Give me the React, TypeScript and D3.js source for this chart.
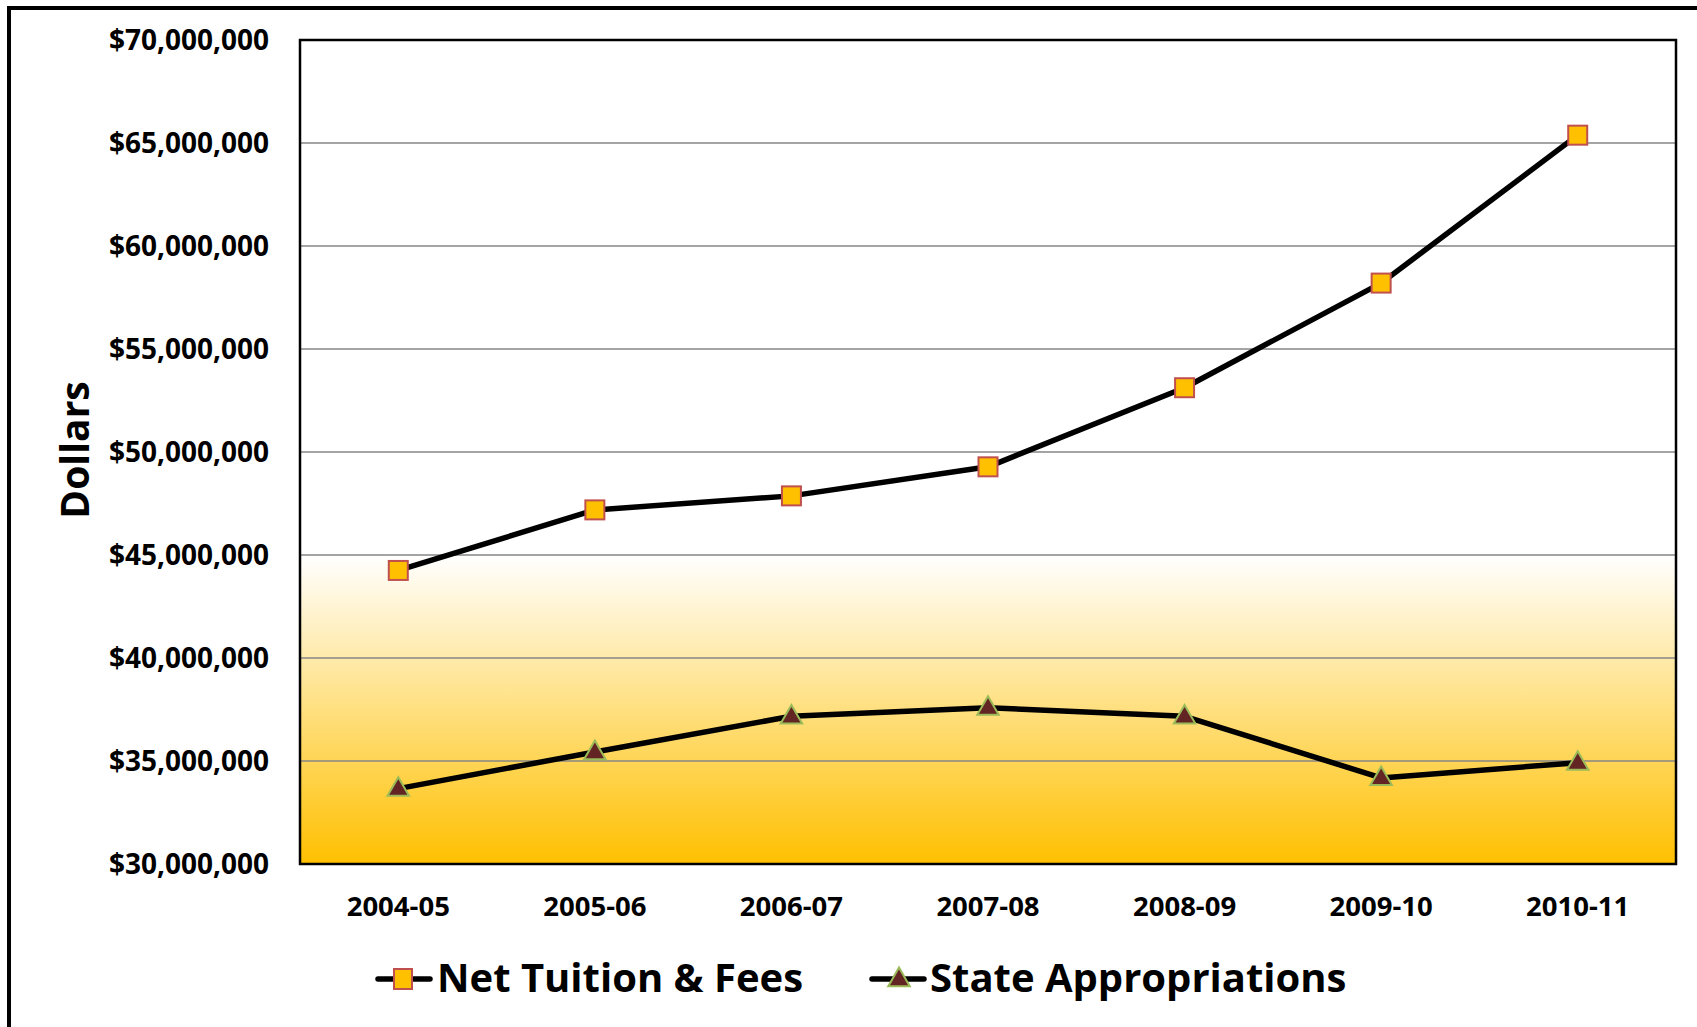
import React from "react";
import * as d3 from "d3";

const categories = ["2004-05", "2005-06", "2006-07", "2007-08", "2008-09", "2009-10", "2010-11"];
const netTuition = [44250000, 47190000, 47870000, 49280000, 53120000, 58200000, 65380000];
const stateApprop = [33660000, 35440000, 37170000, 37590000, 37170000, 34180000, 34920000];
const yTicks = [30000000, 35000000, 40000000, 45000000, 50000000, 55000000, 60000000, 65000000, 70000000];
const seriesNames = ["Net Tuition & Fees", "State Appropriations"];

const W = 1697;
const H = 1027;
const left = 300, right = 1676, top = 40, bottom = 864;
const FONT = "'Open Sans', 'Noto Sans', sans-serif";

export default function App() {
  const x = d3.scaleBand<string>().domain(categories).range([left, right]).padding(0);
  const y = d3.scaleLinear().domain([30000000, 70000000]).range([bottom, top]);
  const cx = (c: string) => (x(c) as number) + x.bandwidth() / 2;
  const line = d3
    .line<number>()
    .x((_, i) => cx(categories[i]))
    .y((d) => y(d));
  const fmt = d3.format("$,");
  const tri = d3.symbol().type(d3.symbolTriangle).size(200)();

  return (
    <svg
      width={W}
      height={H}
      style={{ position: "fixed", left: 0, top: 0, display: "block", background: "#fff" }}
    >
      <defs>
        <linearGradient id="bg" x1="0" y1={y(45000000)} x2="0" y2={bottom} gradientUnits="userSpaceOnUse">
          <stop offset="0" stopColor="#ffffff" />
          <stop offset="1" stopColor="#ffc000" />
        </linearGradient>
      </defs>
      {/* outer frame */}
      <path d={`M9,${H} V8 H${W}`} fill="none" stroke="#000" strokeWidth={4} />
      {/* plot background */}
      <rect x={left} y={top} width={right - left} height={y(45000000) - top} fill="#fff" />
      <rect x={left} y={y(45000000)} width={right - left} height={bottom - y(45000000)} fill="url(#bg)" />
      {/* gridlines */}
      {yTicks.slice(1, -1).map((t) => (
        <line key={t} x1={left} x2={right} y1={y(t)} y2={y(t)} stroke="#868686" strokeWidth={1.5} />
      ))}
      <rect x={left} y={top} width={right - left} height={bottom - top} fill="none" stroke="#000" strokeWidth={2.5} />
      {/* y labels */}
      {yTicks.map((t) => (
        <text key={t} x={269} y={y(t) + 10} textAnchor="end" fontFamily={FONT} fontWeight={700} fontSize={28} fill="#000">
          {fmt(t)}
        </text>
      ))}
      {/* x labels */}
      {categories.map((c) => (
        <text key={c} x={cx(c)} y={916} textAnchor="middle" fontFamily={FONT} fontWeight={700} fontSize={27.5} fill="#000">
          {c}
        </text>
      ))}
      {/* y title */}
      <text transform="translate(89,450) rotate(-90)" textAnchor="middle" fontFamily={FONT} fontWeight={700} fontSize={39} fill="#000">
        Dollars
      </text>
      {/* lines */}
      <path d={line(netTuition) as string} fill="none" stroke="#000" strokeWidth={5.5} strokeLinejoin="round" />
      <path d={line(stateApprop) as string} fill="none" stroke="#000" strokeWidth={5.5} strokeLinejoin="round" />
      {/* markers */}
      {netTuition.map((v, i) => (
        <rect key={i} x={cx(categories[i]) - 9.5} y={y(v) - 9.5} width={19} height={19} fill="#ffc000" stroke="#c0504d" strokeWidth={2} />
      ))}
      {stateApprop.map((v, i) => (
        <path key={i} d={tri as string} transform={`translate(${cx(categories[i])},${y(v) + 1})`} fill="#632523" stroke="#9bbb59" strokeWidth={2} />
      ))}
      {/* legend */}
      <g>
        <line x1={378} x2={430} y1={979} y2={979} stroke="#000" strokeWidth={5.5} strokeLinecap="round" />
        <rect x={394} y={969} width={18} height={20} fill="#ffc000" stroke="#c0504d" strokeWidth={2} />
        <text x={437} y={992} fontFamily={FONT} fontWeight={700} fontSize={40} fill="#000">
          {seriesNames[0]}
        </text>
        <line x1={872} x2={924} y1={979} y2={979} stroke="#000" strokeWidth={5.5} strokeLinecap="round" />
        <path d={tri as string} transform="translate(899,980)" fill="#632523" stroke="#9bbb59" strokeWidth={2} />
        <text x={930} y={992} fontFamily={FONT} fontWeight={700} fontSize={40} fill="#000">
          {seriesNames[1]}
        </text>
      </g>
    </svg>
  );
}
